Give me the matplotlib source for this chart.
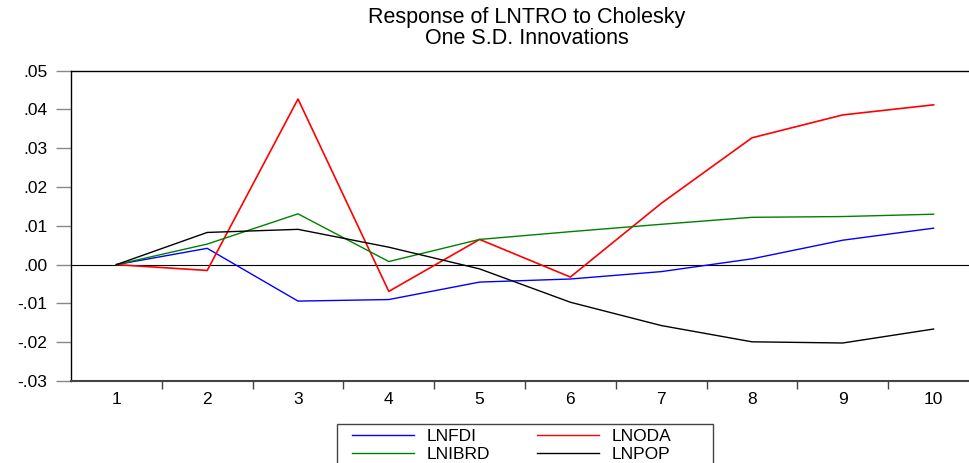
import numpy as np
import matplotlib.pyplot as plt
from matplotlib.lines import Line2D
from matplotlib.patches import Rectangle

plt.rcParams['font.family'] = ['Liberation Sans', 'DejaVu Sans']

# impulse responses of LNTRO, periods 1..10
periods = np.arange(1, 11)
lnfdi = [0.0, 0.0042, -0.0094, -0.0090, -0.0045, -0.0037, -0.0018, 0.0015, 0.0063, 0.0094]
lnoda = [0.0, -0.0015, 0.0427, -0.0069, 0.0065, -0.0032, 0.0158, 0.0327, 0.0386, 0.0412]
lnibrd = [0.0, 0.0053, 0.0131, 0.0008, 0.0065, 0.0085, 0.0104, 0.0122, 0.0124, 0.0130]
lnpop = [0.0, 0.0083, 0.0091, 0.0045, -0.0011, -0.0097, -0.0157, -0.0199, -0.0202, -0.0166]

yticks = [-0.03, -0.02, -0.01, 0.0, 0.01, 0.02, 0.03, 0.04, 0.05]
ylabels = ['-.03', '-.02', '-.01', '.00', '.01', '.02', '.03', '.04', '.05']

W, H = 970, 463
fig = plt.figure(figsize=(W / 100, H / 100), dpi=100)
# axes runs a bit past the right edge of the figure
ax = fig.add_axes([71 / W, 1 - 381 / H, (979 - 71) / W, (381 - 70.7) / H])

ax.axhline(0, color='black', lw=0.8, zorder=1)
l1, = ax.plot(periods, lnfdi, color='#0000ff', lw=1.0, label='LNFDI')
l2, = ax.plot(periods, lnoda, color='#ff0000', lw=1.2, label='LNODA')
l3, = ax.plot(periods, lnibrd, color='#008000', lw=1.0, label='LNIBRD')
l4, = ax.plot(periods, lnpop, color='black', lw=1.0, label='LNPOP')

ax.set_xlim(0.5, 10.5)
ax.set_ylim(-0.03, 0.05)
ax.set_xticks(periods)
ax.set_xticklabels([str(p) for p in periods], fontsize=12.5)
ax.set_xticks(np.arange(1.5, 10.5, 1.0), minor=True)
ax.tick_params(axis='x', which='major', length=0, pad=8)
ax.tick_params(axis='x', which='minor', length=6, width=1, color='#444444', direction='out')
ax.set_yticks(yticks)
ax.set_yticklabels(ylabels, fontsize=12.5)
ax.tick_params(axis='y', length=11, width=1, color='#888888', direction='out', pad=6)

for side in ['left', 'top']:
    ax.spines[side].set_color('black')
    ax.spines[side].set_linewidth(1.0)
ax.spines['bottom'].set_color('#444444')
ax.spines['bottom'].set_linewidth(1.5)
ax.spines['right'].set_visible(False)

fig.text(527 / W, 1 - 18 / H, 'Response of LNTRO to Cholesky', ha='center', va='center', fontsize=15.5)
fig.text(527 / W, 1 - 38 / H, 'One S.D. Innovations', ha='center', va='center', fontsize=15.5)

# legend box, two columns, built in pixel positions
fig.patches.append(Rectangle((337 / W, 1 - 475 / H), (713 - 337) / W, (475 - 424) / H,
                             transform=fig.transFigure, facecolor='white',
                             edgecolor='#444444', lw=1.0))
entries = [(l1, 352, 435), (l3, 352, 453), (l2, 537, 435), (l4, 537, 453)]
for line, x0, y0 in entries:
    fig.lines.append(Line2D([x0 / W, (x0 + 62) / W], [1 - y0 / H, 1 - y0 / H],
                            transform=fig.transFigure, color=line.get_color(), lw=1.0))
    fig.text((x0 + 75) / W, 1 - y0 / H, line.get_label(), ha='left', va='center_baseline',
             fontsize=12.5)

fig.savefig('out.png', dpi=100)
